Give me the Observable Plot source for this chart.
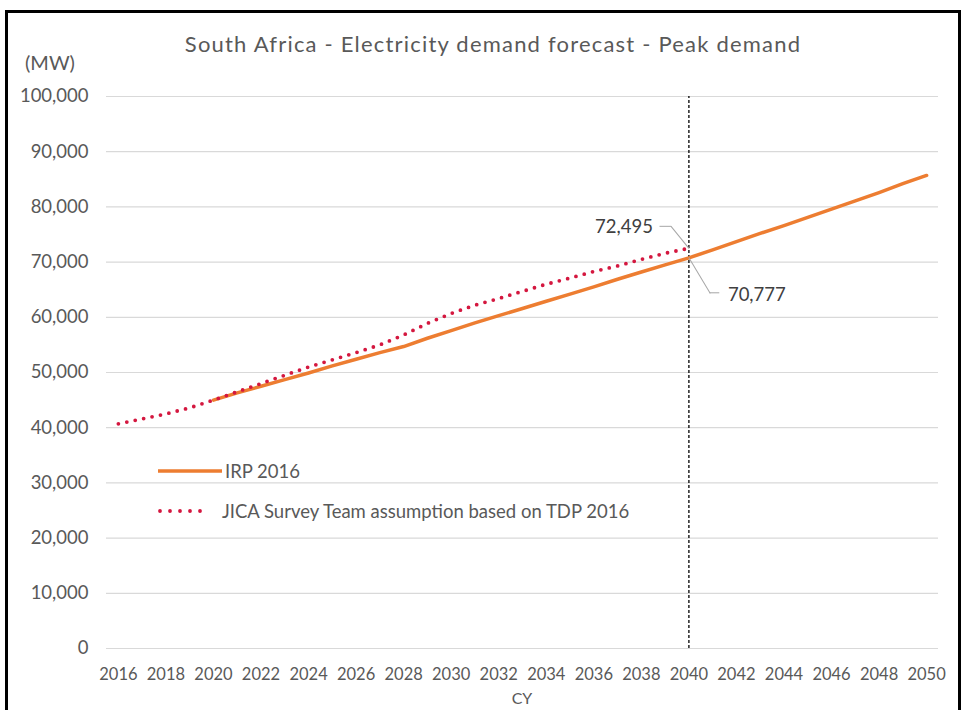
<!DOCTYPE html>
<html><head><meta charset="utf-8">
<script src="https://cdn.jsdelivr.net/npm/d3@7"></script>
<script src="https://cdn.jsdelivr.net/npm/@observablehq/plot@0.6"></script>
<style>
body{margin:0;background:#fff;}
#wrap{position:relative;width:964px;height:710px;overflow:hidden;font-family:Lato,sans-serif;color:#595959;background:#fff;}
#frame{position:absolute;left:5px;top:10px;width:956px;height:740px;border:3px solid #000;box-sizing:border-box;}
#title{position:absolute;left:0;width:986px;top:31px;text-align:center;font-size:22px;letter-spacing:1.2px;line-height:26px;white-space:nowrap;}
#unit{position:absolute;left:25px;top:50px;font-size:20px;line-height:24px;}
#xlab{position:absolute;left:0;width:1044px;top:688px;text-align:center;font-size:16px;line-height:20px;}
#chart{position:absolute;left:0;top:0;}
.leg{position:absolute;font-size:18.5px;line-height:20px;white-space:nowrap;}
</style>
</head><body>
<div id="wrap">
  <div id="frame"></div>
  <div id="chart"></div>
  <div id="title">South Africa - Electricity demand forecast - Peak demand</div>
  <div id="unit">(MW)</div>
  <div id="xlab">CY</div>
  <svg id="legsw" width="964" height="710" style="position:absolute;left:0;top:0;pointer-events:none"></svg>
  <div class="leg" id="leg1" style="left:225px;top:461px">IRP 2016</div>
  <div class="leg" id="leg2" style="left:222px;top:501px">JICA Survey Team assumption based on TDP 2016</div>
</div>
<script>
// ---- data ----
const irpYears = [2020,2021,2022,2023,2024,2025,2026,2027,2028,2029,2030,2031,2032,2033,2034,2035,2036,2037,2038,2039,2040,2041,2042,2043,2044,2045,2046,2047,2048,2049,2050];
const irpValues = [45000,46300,47500,48700,49900,51200,52400,53600,54700,56200,57600,59000,60300,61600,62900,64200,65500,66900,68200,69500,70777,72200,73700,75200,76600,78100,79600,81100,82600,84200,85700];
const jicaYears = [2016,2017,2018,2019,2020,2021,2022,2023,2024,2025,2026,2027,2028,2029,2030,2031,2032,2033,2034,2035,2036,2037,2038,2039,2040];
const jicaValues = [40700,41600,42500,43600,45000,46500,48000,49500,51000,52300,53600,55000,56800,58900,60700,62200,63400,64700,66000,67100,68300,69300,70500,71600,72495];
const xTicks = [2016,2018,2020,2022,2024,2026,2028,2030,2032,2034,2036,2038,2040,2042,2044,2046,2048,2050];
const yTicks = [0,10000,20000,30000,40000,50000,60000,70000,80000,90000,100000];
const markerYear = [2040];
const seriesNames = ["IRP 2016", "JICA Survey Team assumption based on TDP 2016"];

const ORANGE = "#ED7D31";
const RED = "#d4173f";

const irp = irpYears.map((x, i) => ({x, y: irpValues[i]}));
const jica = jicaYears.map((x, i) => ({x, y: jicaValues[i]}));
const jicaEnd = [jica[jica.length - 1]];
const irpAt = [irp.find(d => d.x === markerYear[0])];

const fmt = d3.format(",");
const noHead = {draw(ctx, l) { ctx.moveTo(0, 0); ctx.lineTo(0, -l); }};

const chart = Plot.plot({
  width: 964,
  height: 710,
  marginTop: 96,
  marginBottom: 62,
  marginLeft: 106,
  marginRight: 26,
  style: {fontFamily: "Lato, sans-serif", fontSize: "16px", color: "#595959", background: "transparent"},
  x: {domain: [2015.5, 2050.5]},
  y: {domain: [0, 100000]},
  marks: [
    Plot.ruleY(yTicks, {stroke: "#d9d9d9", strokeWidth: 1.2}),
    Plot.axisY({ticks: yTicks, tickSize: 0, tickPadding: 18, tickFormat: fmt, label: null, fontSize: 18.5}),
    Plot.axisX({ticks: xTicks, tickSize: 0, tickPadding: 20, tickFormat: d => String(d), label: null, fontSize: 16.5}),
    Plot.ruleX(markerYear, {y1: 0, y2: 100000, stroke: "#000", strokeWidth: 1.3, strokeDasharray: "3,2"}),
    Plot.line(irp, {x: "x", y: "y", stroke: ORANGE, strokeWidth: 3.5}),
    Plot.line(jica, {x: "x", y: "y", stroke: RED, strokeWidth: 3.8, strokeDasharray: "0,8.6", strokeLinecap: "round"}),
    // leader lines
    Plot.vector(jicaEnd, {x: "x", y: "y", length: 28, rotate: -39, anchor: "start", shape: noHead, stroke: "#a6a6a6", strokeWidth: 1}),
    Plot.vector(jicaEnd, {x: "x", y: "y", dx: -18, dy: -22, length: 11, rotate: -90, anchor: "start", shape: noHead, stroke: "#a6a6a6", strokeWidth: 1}),
    Plot.vector(irpAt, {x: "x", y: "y", length: 41, rotate: 149, anchor: "start", shape: noHead, stroke: "#a6a6a6", strokeWidth: 1}),
    Plot.vector(irpAt, {x: "x", y: "y", dx: 21, dy: 35, length: 9, rotate: 90, anchor: "start", shape: noHead, stroke: "#a6a6a6", strokeWidth: 1}),
    Plot.text(jicaEnd, {x: "x", y: "y", text: d => fmt(d.y), dx: -36, dy: -21, textAnchor: "end", fontSize: 18.5, fill: "#404040"}),
    Plot.text(irpAt, {x: "x", y: "y", text: d => fmt(d.y), dx: 39, dy: 37, textAnchor: "start", fontSize: 18.5, fill: "#404040"})
  ]
});
document.getElementById("chart").appendChild(chart);

// legend swatches
document.getElementById("leg1").textContent = seriesNames[0];
document.getElementById("leg2").textContent = seriesNames[1];
const sw = d3.select("#legsw");
sw.append("line").attr("x1", 158).attr("x2", 222).attr("y1", 471).attr("y2", 471)
  .attr("stroke", ORANGE).attr("stroke-width", 3.5);
sw.append("line").attr("x1", 160).attr("x2", 210).attr("y1", 511).attr("y2", 511)
  .attr("stroke", RED).attr("stroke-width", 3.8).attr("stroke-dasharray", "0,10").attr("stroke-linecap", "round");
</script>
</body></html>
